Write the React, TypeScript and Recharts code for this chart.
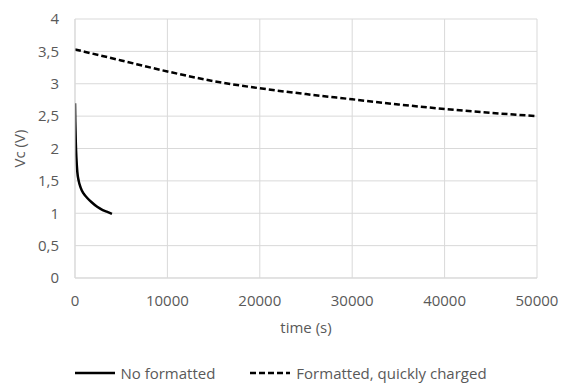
import React from 'react';
import { LineChart, Line, XAxis, YAxis, CartesianGrid, Legend } from 'recharts';

const xTicks = [0, 10000, 20000, 30000, 40000, 50000];
const yTicks = [0, 0.5, 1, 1.5, 2, 2.5, 3, 3.5, 4];

const noFormattedTime = [0, 30, 80, 150, 250, 400, 600, 900, 1300, 1800, 2400, 3000, 3500, 4000];
const noFormattedV = [2.7, 2.42, 2.12, 1.86, 1.64, 1.5, 1.4, 1.31, 1.24, 1.17, 1.1, 1.05, 1.02, 0.99];

const formattedTime = [0, 5000, 10000, 15000, 20000, 25000, 30000, 35000, 40000, 45000, 50000];
const formattedV = [3.53, 3.36, 3.19, 3.04, 2.93, 2.84, 2.76, 2.68, 2.61, 2.55, 2.5];

const seriesNames = ['No formatted', 'Formatted, quickly charged'];

const noFormatted = noFormattedTime.map((t, i) => ({ t, v: noFormattedV[i] }));
const formatted = formattedTime.map((t, i) => ({ t, v: formattedV[i] }));

const FONT = '"Open Sans", sans-serif';
const TEXT = '#595959';
const GRID = '#d9d9d9';

const fmt = (v: number) => String(v).replace('.', ',');

const LegendContent = () => (
  <div
    style={{
      display: 'flex',
      justifyContent: 'center',
      alignItems: 'center',
      height: 20,
      fontFamily: FONT,
      fontSize: 15,
      lineHeight: '20px',
      color: TEXT,
      whiteSpace: 'nowrap',
    }}
  >
    <div style={{ display: 'flex', alignItems: 'center', marginRight: 35 }}>
      <svg width={40} height={10} style={{ marginRight: 5 }}>
        <line x1={0} y1={5} x2={40} y2={5} stroke="#000" strokeWidth={2.5} />
      </svg>
      <span>{seriesNames[0]}</span>
    </div>
    <div style={{ display: 'flex', alignItems: 'center' }}>
      <svg width={40} height={10} style={{ marginRight: 6 }}>
        <line x1={0} y1={5} x2={40} y2={5} stroke="#000" strokeWidth={2.5} strokeDasharray="6 3" />
      </svg>
      <span>{seriesNames[1]}</span>
    </div>
  </div>
);

export default function App() {
  return (
    <div style={{ position: 'absolute', left: 0, top: 0, width: 562, height: 383, background: '#fff' }}>
      <LineChart width={562} height={383} margin={{ top: 19, right: 25, left: 0, bottom: 0 }}>
        <CartesianGrid stroke={GRID} strokeWidth={1} />
        <XAxis
          dataKey="t"
          type="number"
          domain={[0, 50000]}
          ticks={xTicks}
          allowDataOverflow
          height={85}
          axisLine={{ stroke: GRID }}
          tickLine={false}
          tickSize={0}
          tickMargin={17}
          tick={{ fill: TEXT, fontSize: 15, fontFamily: FONT }}
          label={{ value: 'time (s)', position: 'insideTop', offset: 44, fill: TEXT, fontSize: 15, fontFamily: FONT }}
        />
        <YAxis
          dataKey="v"
          type="number"
          domain={[0, 4]}
          ticks={yTicks}
          width={75}
          axisLine={{ stroke: GRID }}
          tickLine={false}
          tickSize={0}
          tickMargin={16}
          tickFormatter={fmt}
          tick={{ fill: TEXT, fontSize: 15, fontFamily: FONT }}
          label={{ value: 'Vc (V)', angle: -90, position: 'insideLeft', offset: 20, fill: TEXT, fontSize: 15, fontFamily: FONT, style: { textAnchor: 'middle' } }}
        />
        <Legend
          layout="horizontal"
          verticalAlign="bottom"
          align="center"
          height={20}
          wrapperStyle={{ top: 363, bottom: 'auto', left: 0, width: 562, height: 20 }}
          content={<LegendContent />}
        />
        <Line
          data={noFormatted}
          dataKey="v"
          name={seriesNames[0]}
          type="monotone"
          stroke="#000"
          strokeWidth={2.5}
          dot={false}
          isAnimationActive={false}
        />
        <Line
          data={formatted}
          dataKey="v"
          name={seriesNames[1]}
          type="monotone"
          stroke="#000"
          strokeWidth={2.5}
          strokeDasharray="6 3"
          dot={false}
          isAnimationActive={false}
        />
      </LineChart>
    </div>
  );
}
